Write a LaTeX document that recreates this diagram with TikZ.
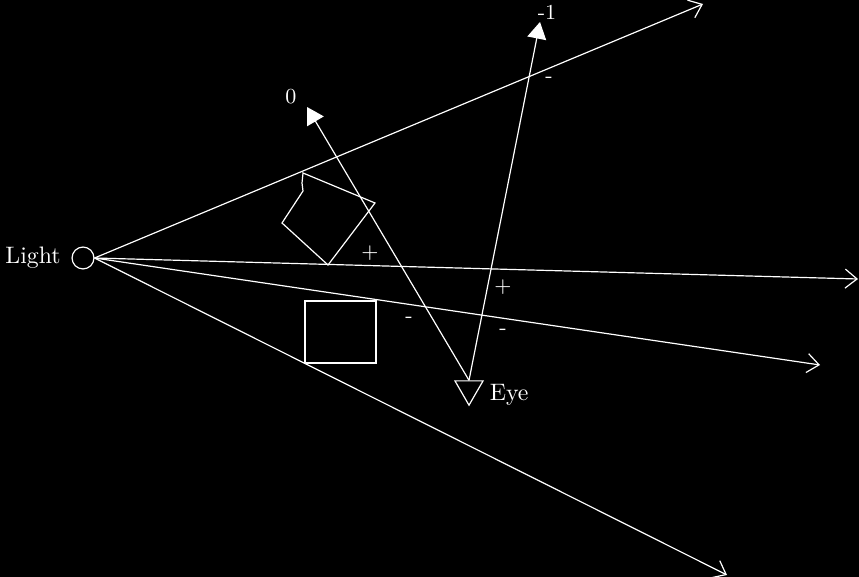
\documentclass[tikz,border=0pt]{standalone}
\usetikzlibrary{arrows.meta,shapes.geometric}
\begin{document}
\begin{tikzpicture}[x=0.42pt, y=-0.42pt, >={Straight Barb[length=5pt,width=8pt]},
    every node/.style={text=white},
    ray/.style={draw=white, line width=0.5pt, ->},
    sight/.style={draw=white, line width=0.5pt, -{Triangle[length=7pt,width=8pt]}},
    object/.style={draw=white, line width=0.5pt},
    sign/.style={font=\small, inner sep=0pt}]

    % --- Background ---
    \useasboundingbox (0,0) rectangle (859,577);
    \fill[black] (-10,-10) rectangle (869,587);

    % --- Light source on the left ---
    \node[circle, draw=white, line width=0.5pt, minimum size=9.2pt, inner sep=0pt,
          label={[label distance=1pt]left:Light}] (light) at (83,258) {};

    % Ends of the shadow rays
    \coordinate (r1) at (703,4);
    \coordinate (r2) at (858,279);
    \coordinate (r3) at (820,365);
    \coordinate (r4) at (727,575);

    % Rays leave from the east side of the light
    \draw[ray] (light.east) -- (r1);
    \draw[ray] (light.east) -- (r2);
    \draw[ray] (light.east) -- (r3);
    \draw[ray] (light.east) -- (r4);

    % --- Objects ---
    % Rotated box, touched by the two upper rays
    \draw[object] (303,173) -- (375,203) -- (328,265) -- (282,223) -- (303,191) -- (302,183) -- cycle;
    % Upright box, touched by the two lower rays
    \draw[object] (305,301) rectangle (376,363);

    % --- Eye and lines of sight ---
    \node[regular polygon, regular polygon sides=3, shape border rotate=180, draw=white,
          line width=0.5pt, minimum size=13.6pt, inner sep=0pt,
          label={[xshift=1pt, yshift=-2.5pt]right:Eye}] (eye) at (469,389) {};

    \coordinate (v0) at (307,107);
    \coordinate (vm1) at (540,22);
    \draw[sight] (eye.north) -- (v0);
    \draw[sight] (eye.north) -- (vm1);

    % Labels at the arrow tips
    \node[font=\small] (lbl0) at (291,97) {0};
    \node[font=\small] (lblm1) at (547,12) {-1};

    % --- Signs where the sight lines cross the rays ---
    \node[sign] (plus1) at (370,253) {+};
    \node[sign] (plus2) at (503,287) {+};
    \node[sign] (minus1) at (409,320) {-};
    \node[sign] (minus2) at (503,332) {-};
    \node[sign] (minus3) at (549,80) {-};
\end{tikzpicture}
\end{document}
